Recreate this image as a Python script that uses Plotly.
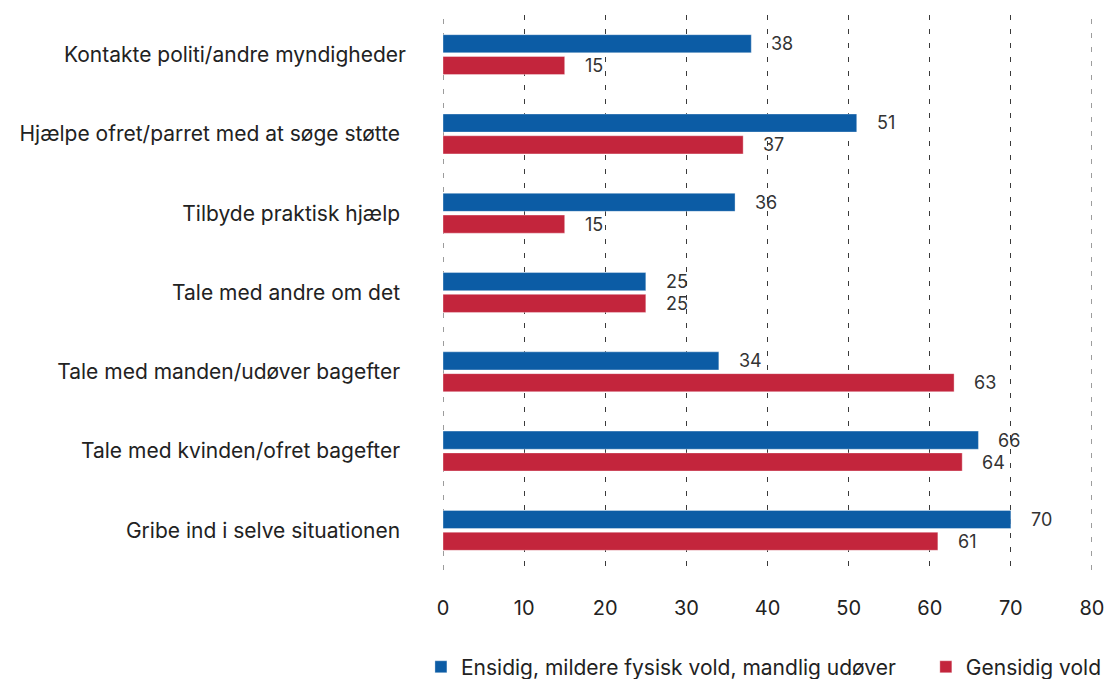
import plotly.graph_objects as go

# categories top -> bottom
CATEGORIES = [
    "Kontakte politi/andre myndigheder",
    "Hjælpe ofret/parret med at søge støtte\u00a0",
    "Tilbyde praktisk hjælp\u00a0",
    "Tale med andre om det\u00a0",
    "Tale med manden/udøver bagefter\u00a0",
    "Tale med kvinden/ofret bagefter\u00a0",
    "Gribe ind i selve situationen\u00a0",
]
ENSIDIG = [38, 51, 36, 25, 34, 66, 70]
GENSIDIG = [15, 37, 15, 25, 63, 64, 61]
SERIES_NAMES = ["Ensidig, mildere fysisk vold, mandlig udøver", "Gensidig vold"]
X_TICKS = [0, 10, 20, 30, 40, 50, 60, 70, 80]

BLUE = "#0c5ca5"
RED = "#c3253c"
INK = "#222222"
GRID = "#3a3a3a"
DASH = "5px,9px"
FONT = "Inter, 'Noto Sans', sans-serif"

fig = go.Figure()
for name, vals, col, leg in [(SERIES_NAMES[0], ENSIDIG, BLUE, "legend"),
                             (SERIES_NAMES[1], GENSIDIG, RED, "legend2")]:
    fig.add_trace(go.Bar(
        y=CATEGORIES, x=vals, name=name, orientation="h", legend=leg,
        marker=dict(color=col, line=dict(color="rgba(255,255,255,0.35)", width=1)),
        offsetgroup=name,
    ))

# value labels just right of each bar end
for vals, off in [(ENSIDIG, -0.138), (GENSIDIG, 0.138)]:
    for i, v in enumerate(vals):
        fig.add_annotation(
            x=v, y=i + off, yref="y", text=str(v), showarrow=False,
            xanchor="left", xshift=18, font=dict(size=18, color="#333333", family=FONT))

# plotly skips gridlines at the range ends -> draw those two by hand
for xv in (X_TICKS[0], X_TICKS[-1]):
    fig.add_vline(x=xv, line=dict(color=GRID, width=1, dash=DASH), layer="below")

fig.update_xaxes(
    range=[X_TICKS[0], X_TICKS[-1]], tickvals=X_TICKS, showgrid=True, gridcolor=GRID,
    griddash=DASH, gridwidth=1, zeroline=False, showline=False,
    tickfont=dict(size=20, color=INK, family=FONT), ticklabelstandoff=24,
    ticklabeloverflow="allow")
fig.update_yaxes(
    type="category", autorange="reversed", showgrid=False, showline=False,
    tickfont=dict(size=21, color=INK, family=FONT), ticklabelstandoff=36)

# page body adds an 8px margin; the graph div is 1096px wide
legend_font = dict(size=21, color=INK, family=FONT)
fig.update_layout(
    width=1096, height=671, barmode="group", bargap=0.45, bargroupgap=0.17,
    paper_bgcolor="white", plot_bgcolor="white",
    margin=dict(l=435, r=12, t=7, b=109, autoexpand=False),
    font=dict(family=FONT, color=INK),
    legend=dict(orientation="h", x=-0.034, xanchor="left", y=-0.175, yanchor="middle",
                itemwidth=30, font=legend_font),
    legend2=dict(orientation="h", x=0.744, xanchor="left", y=-0.175, yanchor="middle",
                 itemwidth=30, font=legend_font),
    showlegend=True,
)

fig.write_html("out.html")
